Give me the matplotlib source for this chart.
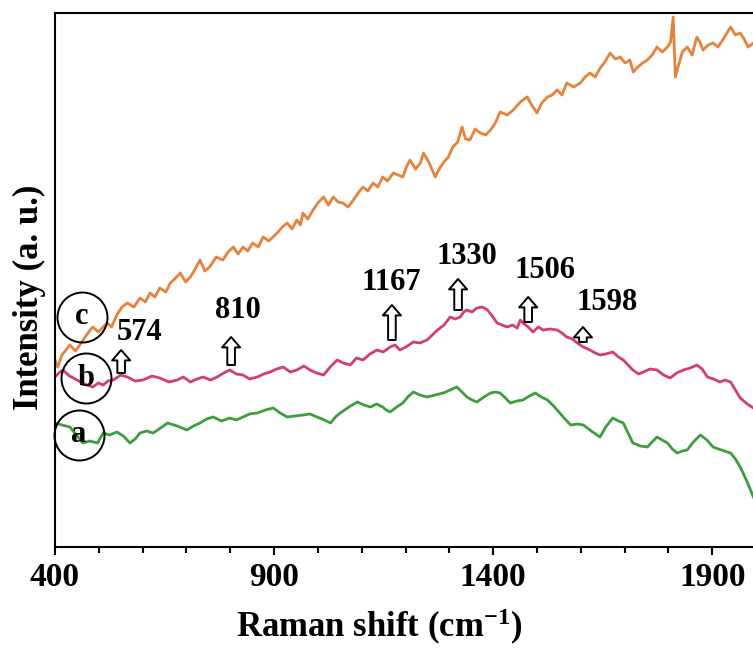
import matplotlib
matplotlib.use('Agg')
import matplotlib.pyplot as plt
from matplotlib.ticker import MultipleLocator

# fonts (Times-like bold everywhere)
plt.rcParams['font.family'] = ['Liberation Serif', 'DejaVu Serif']
plt.rcParams['font.weight'] = 'bold'
plt.rcParams['mathtext.fontset'] = 'custom'
plt.rcParams['mathtext.rm'] = 'Liberation Serif:bold'
plt.rcParams['mathtext.it'] = 'Liberation Serif:bold'
plt.rcParams['mathtext.bf'] = 'Liberation Serif:bold'

# curve c (orange)
wn_c = [400, 406, 416, 434, 447, 464, 475, 486, 499, 519, 529, 541, 553, 565, 580,
        594, 606, 617, 628, 639, 653, 663, 673, 686, 698, 709, 720, 731, 742, 753,
        768, 783, 795, 807, 818, 829, 840, 851, 864, 875, 888, 907, 919, 930, 941,
        952, 960, 966, 977, 989, 1000, 1013, 1024, 1035, 1046, 1057, 1069, 1081, 1092,
        1103, 1114, 1126, 1137, 1148, 1159, 1172, 1183, 1194, 1202, 1210, 1223, 1234,
        1241, 1253, 1268, 1277, 1286, 1298, 1308, 1319, 1329, 1337, 1347, 1359, 1371,
        1383, 1394, 1405, 1416, 1432, 1446, 1462, 1478, 1488, 1500, 1511, 1524, 1535,
        1546, 1557, 1568, 1584, 1599, 1610, 1621, 1633, 1644, 1655, 1667, 1679, 1690,
        1701, 1712, 1720, 1730, 1741, 1752, 1763, 1774, 1786, 1798, 1805, 1811, 1816,
        1822, 1832, 1843, 1854, 1865, 1872, 1879, 1891, 1902, 1913, 1924, 1935, 1942,
        1953, 1964, 1973, 1982, 1994, 2006]
int_c = [187, 180, 192, 202, 196, 207, 214, 220, 215, 224, 220, 232, 240, 244, 240,
         249, 245, 254, 250, 259, 255, 264, 268, 274, 265, 270, 278, 287, 276, 280,
         290, 287, 295, 300, 293, 300, 296, 304, 300, 310, 306, 314, 320, 324, 318,
         327, 322, 334, 328, 337, 344, 350, 342, 350, 345, 344, 340, 347, 354,
         360, 356, 364, 360, 370, 366, 374, 372, 370, 380, 387, 378, 384,
         394, 385, 370, 378, 384, 390, 400, 405, 420, 408, 407, 418, 414,
         412, 417, 424, 435, 432, 437, 445, 450, 442, 434, 444, 450, 452,
         457, 452, 464, 460, 464, 470, 474, 470, 479, 485, 494, 488, 490,
         484, 487, 475, 480, 484, 487, 492, 500, 495, 500, 505, 530, 470,
         480, 495, 500, 492, 510, 505, 497, 502, 504, 500, 507, 515, 520,
         512, 514, 508, 500, 504, 505]

# curve b (pink)
wn_b = [400, 409, 418, 433, 450, 467, 486, 499, 510, 521, 533, 550, 565, 583, 601,
        621, 639, 660, 679, 693, 709, 724, 738, 755, 770, 785, 799, 814, 829, 844,
        862, 876, 891, 906, 921, 937, 952, 968, 982, 997, 1013, 1028, 1044, 1058, 1074,
        1088, 1103, 1119, 1135, 1149, 1165, 1176, 1187, 1201, 1218, 1233, 1249, 1261, 1273,
        1288, 1302, 1313, 1325, 1333, 1340, 1352, 1363, 1376, 1387, 1398, 1409, 1420, 1432,
        1444, 1455, 1462, 1468, 1480, 1491, 1503, 1514, 1530, 1546, 1557, 1568, 1581, 1592,
        1606, 1621, 1633, 1644, 1657, 1673, 1686, 1697, 1708, 1719, 1732, 1743, 1758, 1774,
        1789, 1804, 1819, 1834, 1850, 1865, 1877, 1889, 1903, 1918, 1929, 1942, 1953, 1964,
        1980, 1994, 2006]
int_b = [170, 174, 177, 171, 167, 163, 160, 164, 162, 166, 167, 172, 170, 166, 167,
         171, 169, 165, 167, 170, 165, 168, 170, 167, 170, 174, 177, 173, 172, 168,
         170, 173, 175, 178, 180, 175, 177, 181, 177, 174, 172, 180, 187, 184, 182,
         189, 187, 193, 197, 195, 200, 202, 197, 200, 205, 204, 207, 212, 217,
         222, 230, 228, 230, 235, 237, 235, 239, 240, 237, 231, 224, 222, 220,
         222, 219, 227, 224, 220, 215, 220, 217, 218, 217, 214, 210, 208, 204,
         200, 197, 194, 192, 193, 195, 190, 187, 182, 177, 173, 175, 178, 177,
         172, 169, 174, 177, 179, 182, 178, 170, 168, 165, 167, 165, 157, 149,
         143, 139, 135]

# curve a (green)
wn_a = [400, 416, 434, 449, 464, 479, 497, 510, 525, 541, 556, 571, 583, 594, 609,
        624, 641, 657, 679, 701, 716, 731, 746, 761, 780, 799, 814, 829, 844, 862,
        880, 898, 914, 930, 947, 966, 982, 998, 1015, 1029, 1040, 1051, 1071, 1090, 1105,
        1120, 1134, 1148, 1156, 1165, 1180, 1194, 1205, 1218, 1233, 1249, 1268, 1286, 1302,
        1317, 1329, 1340, 1352, 1363, 1379, 1394, 1405, 1416, 1428, 1439, 1454, 1468, 1483,
        1496, 1510, 1524, 1538, 1552, 1564, 1577, 1592, 1606, 1624, 1644, 1657, 1673, 1686,
        1697, 1708, 1719, 1736, 1752, 1763, 1774, 1786, 1798, 1809, 1820, 1832, 1843, 1857,
        1873, 1888, 1902, 1921, 1942, 1953, 1964, 1980, 1994, 2006]
int_a = [124, 122, 120, 112, 104, 106, 104, 114, 112, 115, 111, 104, 108, 114, 116,
         114, 119, 124, 121, 117, 121, 124, 128, 130, 126, 129, 127, 130, 133, 134,
         137, 139, 134, 130, 131, 132, 133, 130, 127, 124, 130, 134, 140, 145, 142,
         140, 143, 140, 137, 135, 140, 144, 150, 155, 152, 150, 152, 154, 157,
         160, 155, 150, 147, 145, 150, 154, 155, 154, 149, 144, 146, 147, 151,
         154, 150, 147, 141, 134, 128, 122, 123, 122, 116, 110, 120, 129, 126,
         124, 114, 104, 101, 100, 105, 110, 107, 104, 98, 94, 96, 97, 105,
         112, 107, 100, 97, 94, 88, 80, 65, 50, 40]

peak_labels = ['574', '810', '1167', '1330', '1506', '1598']
curve_names = ['a', 'b', 'c']
x_ticks = [400, 900, 1400, 1900]

fig = plt.figure(figsize=(7.53, 6.5), dpi=100)
ax = fig.add_axes([55 / 753, 103 / 650, 701 / 753, 534 / 650])

ax.plot(wn_a, int_a, color='#3C9E3C', lw=2.0)
ax.plot(wn_b, int_b, color='#D63C6E', lw=2.0)
ax.plot(wn_c, int_c, color='#E8823A', lw=2.0)

ax.set_xlim(400, 2000)
ax.set_ylim(0, 534)

# hollow up arrows + peak numbers
arrow_pos = [(551, 174, 197), (802, 182, 210), (1169, 207, 242),
             (1320, 237, 268), (1480, 225, 250), (1605, 205, 220)]
label_pos = [(594, 214), (818, 236), (1167, 265), (1341, 290), (1519, 276), (1660, 245)]
for lab, (ax_x, y0, y1), (tx, ty) in zip(peak_labels, arrow_pos, label_pos):
    ax.annotate('', xy=(ax_x, y1), xytext=(ax_x, y0),
                arrowprops=dict(arrowstyle='simple,head_length=0.75,head_width=1.3,tail_width=0.55',
                                fc='white', ec='black', lw=1.4, mutation_scale=10,
                                shrinkA=0, shrinkB=0))
    ax.text(tx, ty, lab, fontsize=22, fontweight='bold', ha='center', va='center')

# circled curve letters
circle_pos = [(455, 112), (471, 169), (462, 230)]
for name, (cx, cy) in zip(curve_names, circle_pos):
    ax.plot(cx, cy, marker='o', ms=36, mfc='none', mec='black', mew=1.4, clip_on=False)
    ax.text(cx, cy, name, fontsize=22, fontweight='bold', ha='center', va='center')

for s in ax.spines.values():
    s.set_linewidth(1.5)

ax.set_xticks(x_ticks)
ax.xaxis.set_minor_locator(MultipleLocator(100))
ax.tick_params(axis='x', which='major', direction='out', length=6, width=1.5,
               labelsize=24, pad=5)
ax.tick_params(axis='x', which='minor', direction='out', length=4.5, width=1.5)
ax.set_yticks([])
for t in ax.get_xticklabels():
    t.set_fontweight('bold')

ax.set_xlabel('Raman shift (cm$^{-1}$)', fontsize=25, fontweight='bold')
ax.set_ylabel('Intensity (a. u.)', fontsize=25, fontweight='bold')
ax.xaxis.set_label_coords(0.462, -0.113)
ax.yaxis.set_label_coords(-0.013, 0.468)

fig.savefig('out.png', dpi=100)
